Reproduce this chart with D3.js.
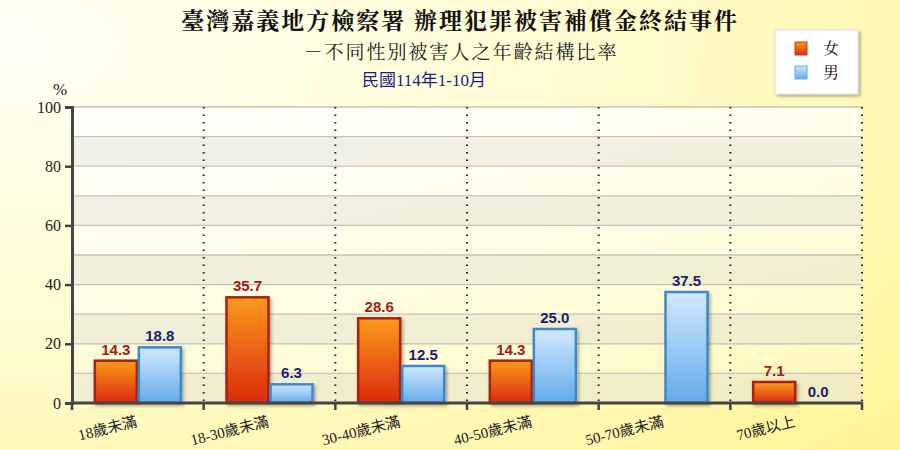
<!DOCTYPE html>
<html><head><meta charset="utf-8">
<script src="https://cdn.jsdelivr.net/npm/d3@7"></script>
<style>html,body{margin:0;padding:0;}svg{display:block;}</style>
</head><body>
<script>
const categories = ["18歲未滿","18-30歲未滿","30-40歲未滿","40-50歲未滿","50-70歲未滿","70歲以上"];
const female = [14.3, 35.7, 28.6, 14.3, null, 7.1];
const male = [18.8, 6.3, 12.5, 25.0, 37.5, 0.0];
const seriesNames = ["女","男"];
const yTicks = [0,20,40,60,80,100];

const W=900,H=450;
const m={l:72,r:38,t:107,b:47};
const svg=d3.select("body").append("svg").attr("width",W).attr("height",H);
const defs=svg.append("defs");
const bg=defs.append("radialGradient").attr("id","bg").attr("cx","0").attr("cy","0.1").attr("r","1.3");
bg.append("stop").attr("offset","0").attr("stop-color","#fffff6");
bg.append("stop").attr("offset","0.5").attr("stop-color","#fffbd0");
bg.append("stop").attr("offset","1").attr("stop-color","#fff59a");
const gf=defs.append("linearGradient").attr("id","gf").attr("x1",0).attr("y1",0).attr("x2",0).attr("y2",1);
gf.append("stop").attr("offset","0").attr("stop-color","#f99a1c");
gf.append("stop").attr("offset","1").attr("stop-color","#dc2a0e");
const gm=defs.append("linearGradient").attr("id","gm").attr("x1",0).attr("y1",0).attr("x2",0).attr("y2",1);
gm.append("stop").attr("offset","0").attr("stop-color","#d2e9fc");
gm.append("stop").attr("offset","1").attr("stop-color","#62aaea");
const pg=defs.append("linearGradient").attr("id","pg").attr("x1",0).attr("y1",0).attr("x2",0).attr("y2",1);
pg.append("stop").attr("offset","0").attr("stop-color","#ffffff").attr("stop-opacity",0.75);
pg.append("stop").attr("offset","1").attr("stop-color","#ffffff").attr("stop-opacity",0.25);
const sh=defs.append("filter").attr("id","sh").attr("x","-20%").attr("y","-20%").attr("width","150%").attr("height","150%");
sh.append("feDropShadow").attr("dx",2).attr("dy",2).attr("stdDeviation",1.5).attr("flood-color","#000").attr("flood-opacity",0.3);

svg.append("rect").attr("width",W).attr("height",H).attr("fill","url(#bg)");

const x=d3.scaleBand().domain(categories).range([m.l,W-m.r]).paddingInner(0).paddingOuter(0);
const y=d3.scaleLinear().domain([0,100]).range([H-m.b,m.t]);
const pw=W-m.r-m.l;

// plot background
svg.append("rect").attr("x",m.l).attr("y",m.t).attr("width",pw).attr("height",y(0)-y(100)).attr("fill","url(#pg)");
const bands=d3.range(0,100,10);
svg.append("g").selectAll("rect").data(bands.filter(v=>(v/10)%2===0)).join("rect")
 .attr("x",m.l).attr("width",pw).attr("y",d=>y(d+10)).attr("height",d=>y(d)-y(d+10))
 .attr("fill","#d8d6c8").attr("opacity",0.35);
svg.append("g").selectAll("line").data(d3.range(10,101,10)).join("line")
 .attr("x1",m.l).attr("x2",W-m.r).attr("y1",d=>y(d)).attr("y2",d=>y(d))
 .attr("stroke","#c4c3bb").attr("stroke-width",1.3);

// dotted separators
const seps=categories.slice(1).map(c=>x(c)).concat([W-m.r]);
svg.append("g").selectAll("line").data(seps).join("line")
 .attr("x1",d=>d).attr("x2",d=>d).attr("y1",y(100)).attr("y2",y(0))
 .attr("stroke","#222").attr("stroke-width",2).attr("stroke-dasharray","1.5,6");

// bars
const bw=42, gap=2;
const data=[];
categories.forEach((c,i)=>{
  data.push({c,s:0,v:female[i]});
  data.push({c,s:1,v:male[i]});
});
const bx=d=>x(d.c)+x.bandwidth()/2+(d.s===0?-bw-gap/2:gap/2);
svg.append("g").selectAll("rect").data(data.filter(d=>d.v!==null&&d.v>0)).join("rect")
 .attr("x",bx).attr("width",bw).attr("y",d=>y(d.v)).attr("height",d=>y(0)-y(d.v))
 .attr("fill",d=>d.s===0?"url(#gf)":"url(#gm)")
 .attr("stroke",d=>d.s===0?"#a8200f":"#3d88c9").attr("stroke-width",2.5)
 .attr("filter","url(#sh)");
svg.append("g").selectAll("text").data(data.filter(d=>d.v!==null)).join("text")
 .attr("x",d=>bx(d)+bw/2).attr("y",d=>y(d.v)-6)
 .attr("text-anchor","middle").attr("font-family","Liberation Sans, Arial, sans-serif")
 .attr("font-weight","bold").attr("font-size",15)
 .attr("fill",d=>d.s===0?"#a11a1a":"#1c1c72")
 .text(d=>d.v.toFixed(1));

// axes
const ax=svg.append("g").attr("transform",`translate(${m.l},0)`)
 .call(d3.axisLeft(y).tickValues(yTicks).tickSize(7).tickPadding(4));
ax.select(".domain").attr("stroke","#444").attr("stroke-width",3);
ax.selectAll(".tick line").attr("stroke","#444").attr("stroke-width",2.5);
ax.selectAll(".tick text").attr("font-family","Liberation Serif, Times New Roman, serif").attr("font-size",16).attr("fill","#222");
svg.append("line").attr("x1",m.l-1).attr("x2",W-m.r+1).attr("y1",y(0)).attr("y2",y(0)).attr("stroke","#444").attr("stroke-width",3);
svg.append("g").selectAll("line").data([m.l].concat(seps)).join("line")
 .attr("x1",d=>d).attr("x2",d=>d).attr("y1",y(0)).attr("y2",y(0)+7).attr("stroke","#444").attr("stroke-width",2.5);
svg.append("text").attr("x",60).attr("y",95).attr("text-anchor","middle")
 .attr("font-family","Liberation Serif, serif").attr("font-size",17).attr("fill","#222").text("%");

// x labels
const serif="Noto Serif CJK TC, Noto Sans CJK TC, serif";
svg.append("g").selectAll("text").data(categories).join("text")
 .attr("transform",c=>`translate(${x(c)+x.bandwidth()/2},${y(0)+23}) rotate(-14)`)
 .attr("text-anchor","end").attr("font-family","Liberation Serif, Noto Sans CJK TC, serif")
 .attr("font-size",15).attr("fill","#222").text(c=>c);

// titles
svg.append("text").attr("x",460).attr("y",29).attr("text-anchor","middle").attr("font-family",serif)
 .attr("font-size",23).attr("font-weight","bold").attr("letter-spacing",2).attr("fill","#111").text("臺灣嘉義地方檢察署  辦理犯罪被害補償金終結事件");
svg.append("text").attr("x",461).attr("y",59).attr("text-anchor","middle").attr("font-family",serif)
 .attr("font-size",19).attr("letter-spacing",2).attr("fill","#222").text("－不同性別被害人之年齡結構比率");
svg.append("text").attr("x",424).attr("y",86).attr("text-anchor","middle").attr("font-family","Liberation Serif, Noto Sans CJK TC, serif")
 .attr("font-size",17).attr("fill","#1c1c8a").text("民國114年1-10月");

// legend
const lg=svg.append("g").attr("transform","translate(775,30)");
lg.append("rect").attr("width",83).attr("height",64).attr("fill","#fff").attr("stroke","#ddd").attr("filter","url(#sh)");
seriesNames.forEach((n,i)=>{
  lg.append("rect").attr("x",20).attr("y",12+i*24).attr("width",12).attr("height",13)
   .attr("fill",i===0?"url(#gf)":"url(#gm)").attr("stroke",i===0?"#c04010":"#6aa8dc").attr("stroke-width",1);
  lg.append("text").attr("x",48).attr("y",24+i*24).attr("font-family",serif).attr("font-size",16).attr("fill","#111").text(n);
});
</script>
</body></html>
